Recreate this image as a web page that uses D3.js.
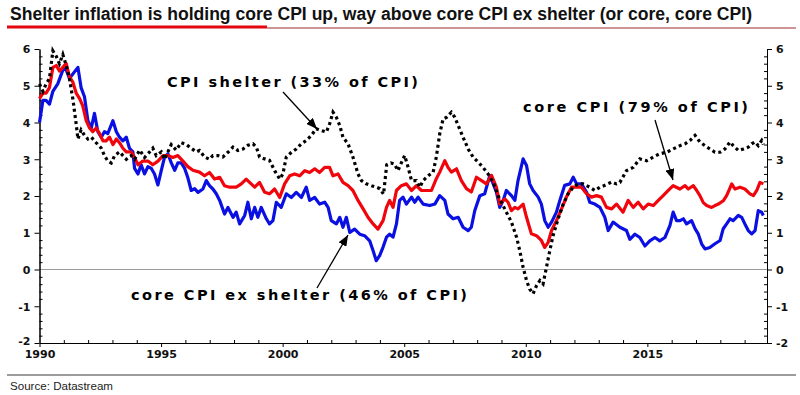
<!DOCTYPE html>
<html>
<head>
<meta charset="utf-8">
<script src="https://cdn.jsdelivr.net/npm/d3@7"></script>
<style>
  body { margin: 0; background: #fff; }
  .axis text { font-family: "DejaVu Sans", Verdana, sans-serif; font-weight: bold; font-size: 11px; fill: #111; }
  .axis path, .axis line { stroke: #000; }
</style>
</head>
<body>
<svg id="chart" width="800" height="395"></svg>
<script>
// ---- data: [year, % y/y] ----
let shelter = [
  [1990.00,5.05],[1990.14,4.85],[1990.27,5.05],[1990.41,5.2],[1990.55,5.95],[1990.69,5.8],[1990.82,5.6],[1990.96,5.85],
  [1991.10,5.55],[1991.23,5.2],[1991.37,4.65],[1991.51,3.95],[1991.58,3.55],[1991.71,3.8],[1991.85,3.65],[1991.99,3.55],
  [1992.13,3.6],[1992.33,3.45],[1992.54,3.3],[1992.67,3.1],[1992.81,2.95],[1992.95,2.9],[1993.09,3.1],[1993.29,3.2],
  [1993.43,3.1],[1993.57,3.0],[1993.77,3.1],[1993.91,3.0],[1994.12,3.25],[1994.32,3.05],[1994.53,3.2],[1994.66,3.3],
  [1994.80,3.1],[1995.01,3.2],[1995.14,3.0],[1995.28,3.2],[1995.42,3.4],[1995.62,3.25],[1995.83,3.45],[1996.04,3.4],
  [1996.24,3.3],[1996.45,3.2],[1996.58,3.24],[1996.79,3.06],[1996.99,3.0],[1997.13,3.1],[1997.34,3.1],[1997.54,3.06],
  [1997.75,3.19],[1997.96,3.33],[1998.16,3.24],[1998.37,3.28],[1998.57,3.38],[1998.78,3.42],[1998.92,3.33],[1999.05,3.06],
  [1999.26,3.01],[1999.46,2.97],[1999.67,2.69],[1999.88,2.46],[2000.01,2.6],[2000.15,3.06],[2000.36,3.19],[2000.56,3.28],
  [2000.77,3.42],[2000.97,3.51],[2001.18,3.65],[2001.38,3.83],[2001.59,3.78],[2001.80,3.74],[2001.93,3.96],[2002.07,4.28],
  [2002.21,4.14],[2002.35,3.92],[2002.48,3.6],[2002.69,3.42],[2002.89,3.06],[2003.10,2.6],[2003.24,2.42],[2003.44,2.33],
  [2003.65,2.28],[2003.85,2.24],[2004.00,2.2],[2004.15,2.05],[2004.28,2.85],[2004.45,2.9],[2004.60,2.87],[2004.74,2.69],
  [2004.88,2.9],[2005.02,3.1],[2005.16,2.78],[2005.30,2.42],[2005.50,2.42],[2005.64,2.24],[2005.78,2.42],[2006.00,2.56],
  [2006.19,2.65],[2006.32,3.06],[2006.46,3.69],[2006.60,4.1],[2006.74,4.14],[2006.94,4.28],[2007.08,4.14],[2007.22,3.92],
  [2007.42,3.6],[2007.63,3.28],[2007.83,3.06],[2008.04,2.92],[2008.24,2.78],[2008.45,2.6],[2008.66,2.37],[2008.86,2.01],
  [2009.20,1.56],[2009.41,1.29],[2009.62,0.88],[2009.75,0.52],[2009.89,0.06],[2010.03,-0.3],[2010.16,-0.53],[2010.30,-0.66],
  [2010.44,-0.44],[2010.58,-0.3],[2010.71,-0.39],[2010.85,0.06],[2010.99,0.52],[2011.12,0.92],[2011.33,1.38],[2011.54,1.78],
  [2011.74,2.06],[2011.95,2.24],[2012.15,2.33],[2012.36,2.33],[2012.63,2.24],[2012.84,2.15],[2013.05,2.24],[2013.25,2.29],
  [2013.53,2.38],[2013.73,2.33],[2013.87,2.37],[2014.14,2.69],[2014.42,2.78],[2014.69,3.01],[2014.97,2.96],[2015.24,3.06],
  [2015.51,3.15],[2015.79,3.19],[2016.06,3.28],[2016.34,3.37],[2016.55,3.42],[2016.75,3.51],[2016.96,3.65],[2017.16,3.47],
  [2017.37,3.37],[2017.57,3.28],[2017.78,3.19],[2017.99,3.19],[2018.19,3.28],[2018.40,3.47],[2018.53,3.37],[2018.74,3.24],
  [2018.95,3.28],[2019.15,3.33],[2019.29,3.42],[2019.43,3.47],[2019.56,3.37],[2019.70,3.51],[2019.77,3.4]
];

let coreCpi = [
  [1990.00,4.65],[1990.14,4.8],[1990.27,4.8],[1990.41,4.95],[1990.55,5.5],[1990.69,5.55],[1990.82,5.4],[1990.96,5.5],
  [1991.10,5.6],[1991.23,5.25],[1991.37,5.1],[1991.51,4.8],[1991.65,4.65],[1991.78,4.45],[1991.92,4.05],[1992.06,3.85],
  [1992.19,3.75],[1992.33,3.85],[1992.47,3.7],[1992.61,3.5],[1992.74,3.5],[1992.88,3.6],[1993.02,3.4],[1993.16,3.55],
  [1993.29,3.45],[1993.43,3.3],[1993.57,3.2],[1993.77,3.2],[1993.91,3.05],[1994.05,2.85],[1994.25,2.95],[1994.46,2.95],
  [1994.66,2.85],[1994.87,2.95],[1995.08,3.1],[1995.28,3.1],[1995.49,3.05],[1995.69,3.1],[1995.90,2.95],[1996.10,2.8],
  [1996.31,2.7],[1996.58,2.65],[1996.79,2.55],[1996.99,2.64],[1997.20,2.46],[1997.41,2.51],[1997.61,2.28],[1997.82,2.24],
  [1998.09,2.24],[1998.30,2.33],[1998.50,2.46],[1998.64,2.37],[1998.85,2.24],[1999.05,2.37],[1999.26,2.1],[1999.46,2.06],
  [1999.67,2.19],[1999.88,1.96],[2000.08,2.33],[2000.29,2.55],[2000.49,2.6],[2000.70,2.55],[2000.91,2.69],[2001.11,2.64],
  [2001.32,2.74],[2001.52,2.64],[2001.73,2.78],[2001.93,2.78],[2002.07,2.55],[2002.28,2.6],[2002.48,2.37],[2002.69,2.28],
  [2002.89,2.15],[2003.10,1.88],[2003.31,1.65],[2003.51,1.42],[2003.72,1.24],[2003.92,1.1],[2004.13,1.33],[2004.27,1.69],
  [2004.40,1.88],[2004.54,1.69],[2004.68,2.15],[2004.88,2.28],[2005.09,2.33],[2005.30,2.15],[2005.50,2.28],[2005.71,2.15],
  [2005.91,2.15],[2006.12,2.15],[2006.32,2.47],[2006.46,2.65],[2006.67,2.96],[2006.80,2.78],[2006.94,2.65],[2007.15,2.74],
  [2007.35,2.42],[2007.56,2.2],[2007.76,2.11],[2007.97,2.51],[2008.18,2.42],[2008.38,2.33],[2008.59,2.56],[2008.79,2.24],
  [2008.93,1.78],[2009.14,1.92],[2009.27,1.83],[2009.41,1.6],[2009.55,1.69],[2009.68,1.65],[2009.89,1.78],[2010.03,1.42],
  [2010.23,0.97],[2010.44,0.92],[2010.64,0.79],[2010.78,0.6],[2010.92,0.74],[2011.06,1.06],[2011.26,1.33],[2011.47,1.65],
  [2011.67,1.97],[2011.88,2.24],[2012.09,2.24],[2012.29,2.24],[2012.50,2.06],[2012.70,1.97],[2012.91,2.01],[2013.11,1.97],
  [2013.32,1.69],[2013.53,1.65],[2013.73,1.78],[2014.00,1.56],[2014.21,1.88],[2014.42,1.69],[2014.62,1.83],[2014.83,1.65],
  [2015.03,1.78],[2015.24,1.74],[2015.45,1.88],[2015.65,2.01],[2015.86,2.15],[2016.06,2.28],[2016.34,2.19],[2016.55,2.28],
  [2016.68,2.19],[2016.89,2.28],[2017.03,2.15],[2017.16,2.01],[2017.30,1.82],[2017.44,1.74],[2017.64,1.69],[2017.78,1.74],
  [2017.92,1.78],[2018.12,1.87],[2018.26,2.01],[2018.47,2.33],[2018.60,2.19],[2018.81,2.24],[2019.01,2.19],[2019.22,2.06],
  [2019.36,2.01],[2019.50,2.15],[2019.63,2.37],[2019.77,2.33]
];

let coreExShelter = [
  [1990.00,4.0],[1990.14,4.6],[1990.27,4.6],[1990.41,4.5],[1990.55,4.85],[1990.75,5.05],[1991.03,5.55],[1991.23,5.2],
  [1991.58,5.5],[1991.71,4.95],[1991.85,4.7],[1991.99,4.05],[1992.13,3.85],[1992.26,4.25],[1992.40,3.75],[1992.54,3.6],
  [1992.67,3.75],[1992.81,3.7],[1993.02,4.05],[1993.16,3.75],[1993.29,3.6],[1993.43,3.5],[1993.57,3.6],[1993.70,3.3],
  [1993.84,3.2],[1993.91,2.75],[1994.05,2.6],[1994.18,2.85],[1994.32,2.6],[1994.46,2.8],[1994.60,2.75],[1994.73,2.6],
  [1994.87,2.3],[1995.01,2.7],[1995.14,3.05],[1995.28,3.15],[1995.42,2.9],[1995.56,2.7],[1995.69,2.9],[1995.83,2.9],
  [1995.97,2.75],[1996.10,2.5],[1996.24,2.15],[1996.38,2.2],[1996.52,2.1],[1996.72,2.19],[1996.86,2.42],[1996.99,2.28],
  [1997.13,2.19],[1997.27,2.06],[1997.41,1.88],[1997.61,1.51],[1997.75,1.69],[1997.96,1.42],[1998.09,1.56],[1998.23,1.24],
  [1998.44,1.47],[1998.57,1.83],[1998.71,1.38],[1998.85,1.69],[1998.98,1.42],[1999.12,1.69],[1999.33,1.38],[1999.46,1.24],
  [1999.60,1.33],[1999.74,1.83],[1999.94,1.69],[2000.15,2.06],[2000.36,1.96],[2000.56,2.1],[2000.77,1.96],[2000.97,2.24],
  [2001.11,1.88],[2001.32,1.96],[2001.52,1.78],[2001.73,1.83],[2001.87,1.69],[2002.00,1.33],[2002.21,1.24],[2002.35,1.42],
  [2002.48,1.15],[2002.62,1.42],[2002.76,1.01],[2002.96,1.1],[2003.17,0.96],[2003.37,0.92],[2003.58,0.78],[2003.72,0.51],
  [2003.85,0.24],[2003.99,0.38],[2004.13,0.61],[2004.27,0.88],[2004.40,0.96],[2004.54,0.88],[2004.68,1.24],[2004.81,1.88],
  [2004.95,1.97],[2005.09,1.78],[2005.30,1.97],[2005.43,1.83],[2005.57,1.97],[2005.78,1.78],[2006.05,1.74],[2006.26,1.78],
  [2006.46,2.01],[2006.67,1.88],[2006.80,1.51],[2007.01,1.38],[2007.22,1.42],[2007.42,1.15],[2007.63,1.06],[2007.76,1.15],
  [2007.90,1.6],[2008.11,2.01],[2008.31,2.06],[2008.52,2.56],[2008.66,2.33],[2008.79,2.11],[2008.93,1.69],[2009.07,1.88],
  [2009.20,2.15],[2009.41,2.01],[2009.55,1.88],[2009.68,2.42],[2009.89,3.01],[2010.03,2.83],[2010.16,2.33],[2010.30,2.15],
  [2010.51,1.97],[2010.64,1.78],[2010.78,1.33],[2010.92,1.15],[2011.06,1.29],[2011.26,1.56],[2011.40,1.88],[2011.60,2.29],
  [2011.81,2.33],[2011.95,2.51],[2012.09,2.33],[2012.29,2.33],[2012.50,2.1],[2012.63,1.83],[2012.84,1.78],[2013.05,1.69],
  [2013.25,1.42],[2013.39,1.06],[2013.59,1.29],[2013.87,1.15],[2014.14,1.06],[2014.28,0.82],[2014.49,0.96],[2014.69,0.87],
  [2014.90,0.64],[2015.10,0.78],[2015.31,0.87],[2015.51,0.78],[2015.72,0.87],[2015.93,1.2],[2016.06,1.56],[2016.20,1.33],
  [2016.34,1.33],[2016.48,1.38],[2016.61,1.24],[2016.82,1.33],[2016.96,1.11],[2017.09,0.97],[2017.23,0.7],[2017.37,0.56],
  [2017.57,0.6],[2017.78,0.7],[2017.99,0.79],[2018.12,1.11],[2018.26,1.24],[2018.40,1.38],[2018.53,1.33],[2018.74,1.47],
  [2018.88,1.42],[2019.01,1.24],[2019.15,1.06],[2019.29,0.97],[2019.43,1.06],[2019.56,1.6],[2019.70,1.56],[2019.77,1.47]
];

let yTicks = [-2, -1, 0, 1, 2, 3, 4, 5, 6];
let xTicks = [1990, 1995, 2000, 2005, 2010, 2015];
let titleText = "Shelter inflation is holding core CPI up, way above core CPI ex shelter (or core, core CPI)";
let sourceText = "Source: Datastream";
let labelShelter = "CPI shelter (33% of CPI)";
let labelCore = "core CPI (79% of CPI)";
let labelExShelter = "core CPI ex shelter (46% of CPI)";

// ---- chart ----
let chart = d3.select("#chart");

let x = d3.scaleLinear()
    .domain([1990, 2019.92])
    .range([39.5, 767]);

let y = d3.scaleLinear()
    .domain([-2, 6])
    .range([343, 49]);

// title + rules
chart.append("text")
    .text(titleText)
    .attr("x", 10)
    .attr("y", 20)
    .attr("textLength", 742)
    .attr("lengthAdjust", "spacingAndGlyphs")
    .style("font-family", "'Liberation Sans Narrow', 'Arial Narrow', 'Liberation Sans', sans-serif")
    .style("font-weight", "bold")
    .style("font-size", "17.5px")
    .style("fill", "#111");

chart.append("line")
    .attr("x1", 267).attr("x2", 796).attr("y1", 28).attr("y2", 28)
    .attr("stroke", "#9b2b2b").attr("stroke-width", 1);
chart.append("line")
    .attr("x1", 7).attr("x2", 267).attr("y1", 27).attr("y2", 27)
    .attr("stroke", "#e3060f").attr("stroke-width", 3);

chart.append("line")
    .attr("x1", 7).attr("x2", 796).attr("y1", 375).attr("y2", 375)
    .attr("stroke", "#9c9c9c").attr("stroke-width", 2);

chart.append("text")
    .text(sourceText)
    .attr("x", 10)
    .attr("y", 390)
    .attr("textLength", 103)
    .attr("lengthAdjust", "spacingAndGlyphs")
    .style("font-family", "'Liberation Sans Narrow', 'Arial Narrow', 'Liberation Sans', sans-serif")
    .style("font-size", "10.5px")
    .style("fill", "#222");

// zero line
chart.append("line")
    .attr("x1", x.range()[0]).attr("x2", x.range()[1])
    .attr("y1", y(0)).attr("y2", y(0))
    .attr("stroke", "#9a9a9a").attr("stroke-width", 1);

// minor ticks
let yMinor = d3.range(-2, 6.001, 0.2).filter(function(d) { return Math.abs(d - Math.round(d)) > 0.01; });
let xMinor = d3.range(1991, 2020, 1).filter(function(d) { return d % 5 != 0; });

chart.append("g")
    .attr("class", "axis")
    .attr("transform", "translate(" + x.range()[0] + ",0)")
    .call(d3.axisLeft(y).tickValues(yMinor).tickSize(-3).tickSizeOuter(0).tickFormat(""));
chart.append("g")
    .attr("class", "axis")
    .attr("transform", "translate(" + x.range()[1] + ",0)")
    .call(d3.axisRight(y).tickValues(yMinor).tickSize(-3).tickSizeOuter(0).tickFormat(""));
chart.append("g")
    .attr("class", "axis")
    .attr("transform", "translate(0," + y.range()[0] + ")")
    .call(d3.axisBottom(x).tickValues(xMinor).tickSize(-3).tickSizeOuter(0).tickFormat(""));

// major axes
let leftAxis = chart.append("g")
    .attr("class", "axis")
    .attr("transform", "translate(" + x.range()[0] + ",0)")
    .call(d3.axisLeft(y).tickValues(yTicks).tickSize(5).tickSizeOuter(0).tickPadding(4)
        .tickFormat(function(d) { return String(d); }));

let rightAxis = chart.append("g")
    .attr("class", "axis")
    .attr("transform", "translate(" + x.range()[1] + ",0)")
    .call(d3.axisRight(y).tickValues(yTicks).tickSize(5).tickSizeOuter(0).tickPadding(4)
        .tickFormat(function(d) { return String(d); }));

let bottomAxis = chart.append("g")
    .attr("class", "axis")
    .attr("transform", "translate(0," + y.range()[0] + ")")
    .call(d3.axisBottom(x).tickValues(xTicks).tickSize(4).tickSizeOuter(0).tickPadding(2)
        .tickFormat(d3.format("d")));

chart.selectAll(".axis text").attr("dy", null);
leftAxis.selectAll("text").attr("dy", "0.36em");
rightAxis.selectAll("text").attr("dy", "0.36em");
bottomAxis.selectAll("text").attr("dy", "0.8em");
// keep the lowest left label clear of the first year label
leftAxis.selectAll("text").filter(function(d) { return d == -2; }).attr("dy", "0.1em");

// lines
let line = d3.line()
    .x(function(d) { return x(d[0]); })
    .y(function(d) { return y(d[1]); });

chart.append("path")
    .datum(coreExShelter)
    .attr("fill", "none")
    .attr("stroke", "#0b10e2")
    .attr("stroke-width", 3.2)
    .attr("stroke-linejoin", "round")
    .attr("d", line);

chart.append("path")
    .datum(coreCpi)
    .attr("fill", "none")
    .attr("stroke", "#f0050d")
    .attr("stroke-width", 3.2)
    .attr("stroke-linejoin", "round")
    .attr("d", line);

chart.append("path")
    .datum(shelter)
    .attr("fill", "none")
    .attr("stroke", "#000")
    .attr("stroke-width", 3.2)
    .attr("stroke-dasharray", "3,3.2")
    .attr("d", line);

// annotations
chart.append("defs").append("marker")
    .attr("id", "arrow")
    .attr("markerUnits", "userSpaceOnUse")
    .attr("markerWidth", 12).attr("markerHeight", 9)
    .attr("refX", 11).attr("refY", 4.5)
    .attr("orient", "auto")
    .append("path")
    .attr("d", "M0,0 L11,4.5 L0,9 Z")
    .attr("fill", "#000");

function annotate(txt, tx, ty, w, x1, y1, x2, y2) {
    chart.append("text")
        .text(txt)
        .attr("x", tx)
        .attr("y", ty)
        .attr("textLength", w)
        .attr("lengthAdjust", "spacing")
        .style("font-family", "'DejaVu Sans', Verdana, sans-serif")
        .style("font-weight", "bold")
        .style("font-size", "14.5px")
        .style("fill", "#000");
    chart.append("line")
        .attr("x1", x1).attr("y1", y1).attr("x2", x2).attr("y2", y2)
        .attr("stroke", "#000")
        .attr("stroke-width", 1.3)
        .attr("marker-end", "url(#arrow)");
}

annotate(labelShelter, 167, 87, 251, 283, 92, 317, 129);
annotate(labelCore, 523, 112, 225, 655, 120, 673, 180);
annotate(labelExShelter, 131, 300, 336, 317, 288, 348, 235);
</script>
</body>
</html>
